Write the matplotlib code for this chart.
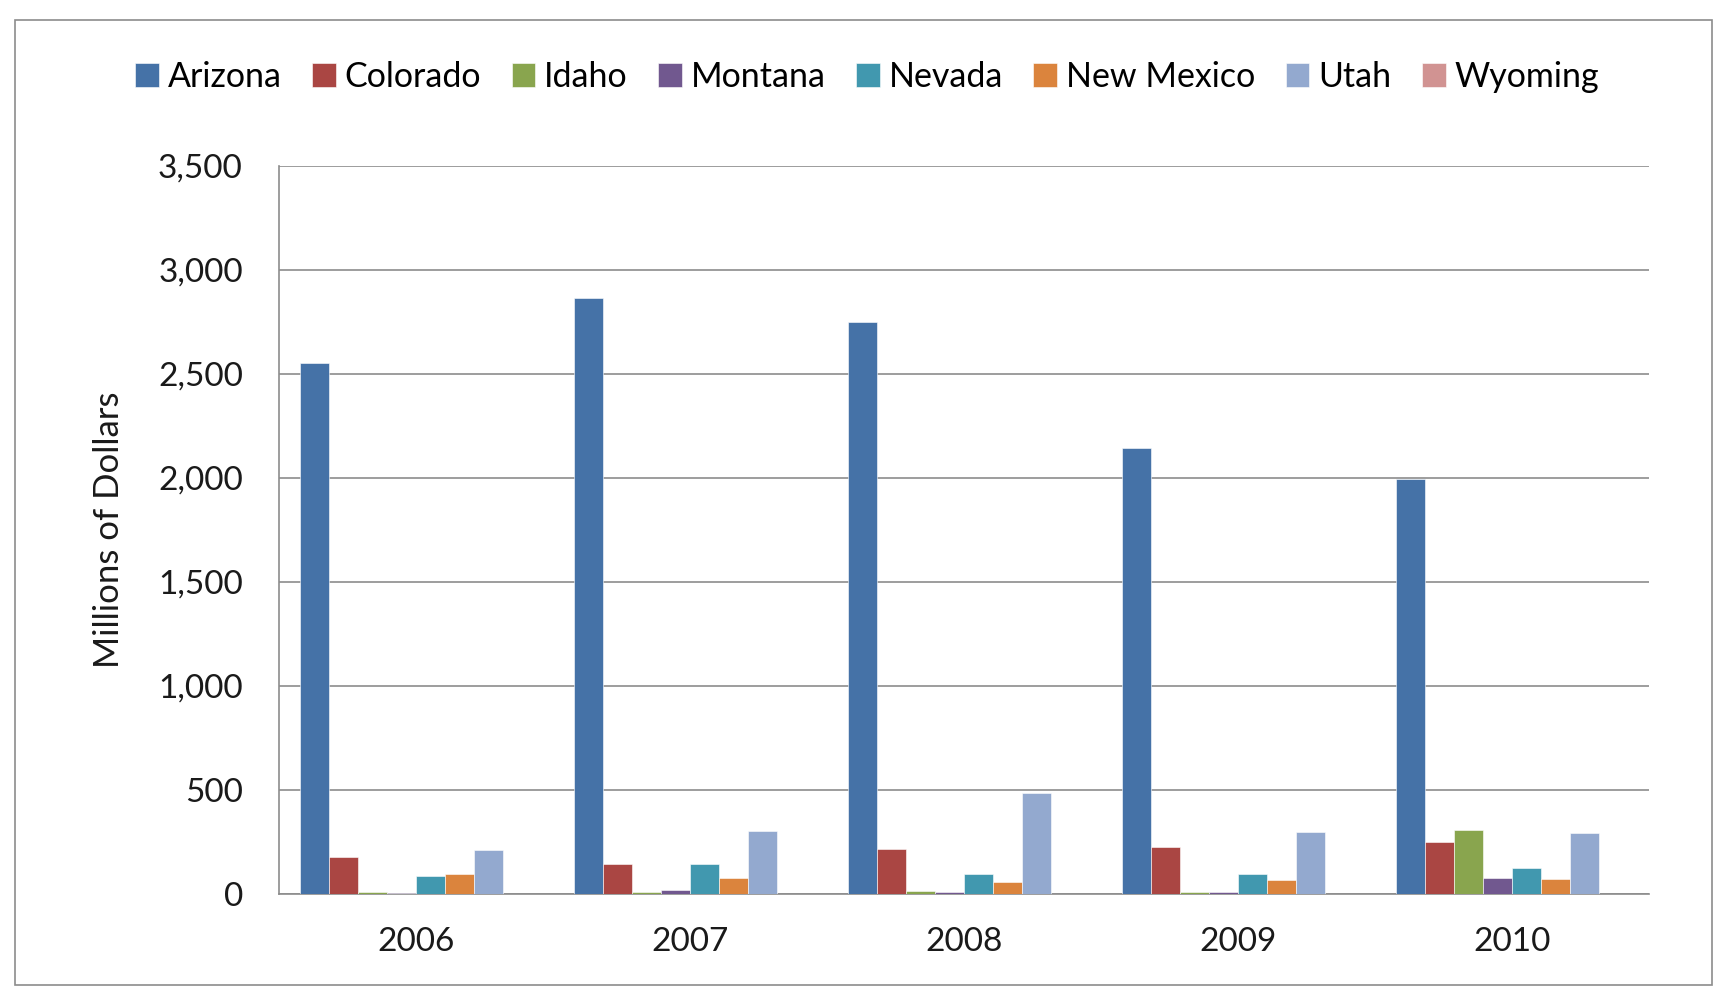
import matplotlib.pyplot as plt
import numpy as np
from matplotlib.patches import Rectangle
from matplotlib.ticker import FuncFormatter

plt.rcParams["font.family"] = ["Lato", "DejaVu Sans"]

years = ["2006", "2007", "2008", "2009", "2010"]
states = ["Arizona", "Colorado", "Idaho", "Montana", "Nevada", "New Mexico", "Utah", "Wyoming"]

# 单位：百万美元
arizona = [2552, 2865, 2748, 2144, 1996]
colorado = [176, 142, 217, 225, 251]
idaho = [11, 11, 16, 10, 306]
montana = [6, 19, 11, 11, 78]
nevada = [86, 142, 94, 97, 126]
new_mexico = [94, 78, 60, 68, 73]
utah = [212, 304, 484, 296, 291]
wyoming = [0, 0, 0, 0, 0]

colors = ["#4572A7", "#AA4643", "#89A54E", "#71588F", "#4198AF", "#DB843D", "#93A9CF", "#D19392"]

series = [arizona, colorado, idaho, montana, nevada, new_mexico, utah, wyoming]

fig = plt.figure(figsize=(17.27, 10.01), dpi=100)
ax = fig.add_axes([0.1615, 0.1069, 0.7933, 0.7273])

# 外框
fig.patches.append(Rectangle((15 / 1727, 1 - 985 / 1001), (1712 - 15) / 1727, (985 - 20) / 1001,
                             transform=fig.transFigure, fill=False, edgecolor="#8c8c8c", linewidth=1.2))

x = np.arange(len(years))
bar_w = 0.1055
for i, (name, vals, c) in enumerate(zip(states, series, colors)):
    ax.bar(x + (i - 3.5) * bar_w, vals, width=bar_w, color=c, label=name,
           edgecolor="white", linewidth=0.4, zorder=3)

ax.set_xlim(-0.5, 4.5)
ax.set_ylim(0, 3500)
ax.set_yticks(np.arange(0, 3501, 500))
ax.yaxis.set_major_formatter(FuncFormatter(lambda v, p: f"{int(v):,}"))
ax.set_xticks(x)
ax.set_xticklabels(years)
ax.grid(axis="y", color="#8c8c8c", linewidth=1.2, zorder=0)
ax.tick_params(axis="both", length=0, labelsize=24, colors="#1a1a1a")
ax.tick_params(axis="y", pad=26)
ax.tick_params(axis="x", pad=24)
for side in ["top", "right"]:
    ax.spines[side].set_visible(False)
for side in ["left", "bottom"]:
    ax.spines[side].set_color("#8c8c8c")
    ax.spines[side].set_linewidth(1.2)

ax.set_ylabel("Millions of Dollars", fontsize=25, labelpad=24, color="#1a1a1a")

fig.legend(loc="center", bbox_to_anchor=(0.502, 0.923), ncol=8, frameon=False, fontsize=24.5,
           handlelength=0.7, handleheight=0.7, handletextpad=0.25, columnspacing=0.9)

fig.savefig("out.png", dpi=100, facecolor="white")
